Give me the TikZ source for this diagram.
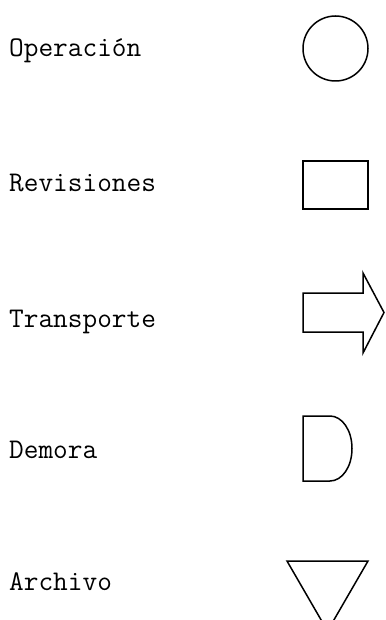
\documentclass[tikz,border=0pt]{standalone}
\begin{document}
\begin{tikzpicture}[x=1pt,y=-1pt,
  lbl/.style={anchor=base west,inner sep=0pt,font=\ttfamily\fontsize{28.5}{28.5}\selectfont},
  sym/.style={draw=black,line width=1.5pt}]
\useasboundingbox (0,0) rectangle (385,620);
\clip (0,0) rectangle (385,620);
\node[lbl] (t1) at (9,57) {Operación};
\node[lbl] (t2) at (9,192) {Revisiones};
\node[lbl] (t3) at (9,327) {Transporte};
\node[lbl] (t4) at (9,458.5) {Demora};
\node[lbl] (t5) at (9,590) {Archivo};
\node[sym,circle,minimum size=65pt,inner sep=0pt] (op) at (335.5,48.5) {};
\node[sym,rectangle,minimum width=65pt,minimum height=48pt,inner sep=0pt,line width=1.8pt] (rev) at (335.5,185) {};
\draw[sym] (303,293) -- (363,293) -- (363,273) -- (384,312.5) -- (363,353) -- (363,332) -- (303,332) -- cycle;
\draw[sym] (303,416) -- (330,416) .. controls (342,416) and (352,430) .. (352,448.5) .. controls (352,467) and (342,481) .. (330,481) -- (303,481) -- cycle;
\draw[sym] (287,561) -- (368,561) -- (327.5,631) -- cycle;
\end{tikzpicture}
\end{document}
